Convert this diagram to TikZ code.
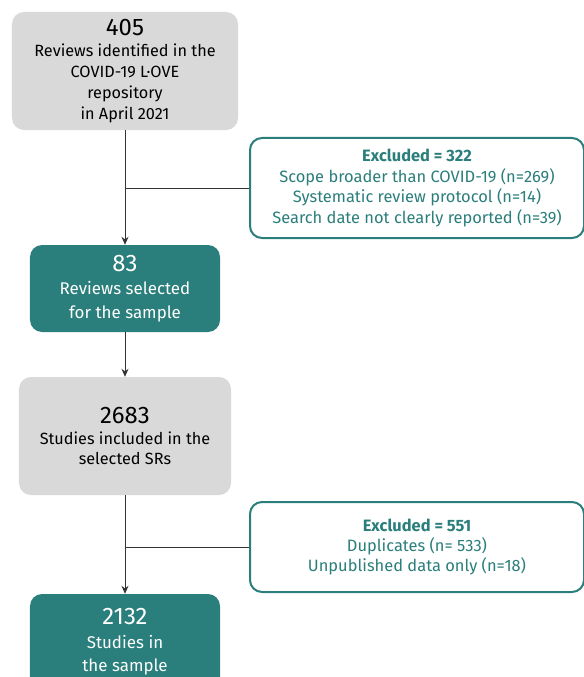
\documentclass[tikz,border=0pt]{standalone}
\usepackage{fontspec}
\setmainfont{Fira Sans}
\usetikzlibrary{arrows.meta}
\definecolor{tealbox}{HTML}{2A7E7B}
\definecolor{greybox}{HTML}{D9D9D9}
\tikzset{
 gb/.style={rectangle,rounded corners=12bp,fill=greybox,align=center,inner sep=0pt,
  font=\fontsize{16.3}{21}\selectfont},
 tb/.style={gb,fill=tealbox,text=white,font=\fontsize{17}{23.5}\selectfont},
 xb/.style={rectangle,rounded corners=12bp,draw=tealbox,line width=2bp,fill=white,
  text=tealbox,align=center,inner sep=0pt,font=\fontsize{16.5}{20.5}\selectfont},
 ar/.style={-{Stealth[length=8bp,width=7bp]},line width=1bp},
 ln/.style={line width=1bp,draw=black!80}}
\newcommand{\bignum}[1]{{\fontsize{24}{27}\selectfont #1}}

\begin{document}
\begin{tikzpicture}[x=1bp,y=-1bp]
 \useasboundingbox (0,0) rectangle (584,677);
 \begin{scope}
 \clip (0,0) rectangle (584,677);
 \node[gb,minimum width=226bp,minimum height=118bp] (rev) at (125,71)
  {\bignum{405}\\Reviews identified in the\\COVID-19 L·OVE\\repository\\in April 2021};
 \node[tb,minimum width=190bp,minimum height=87bp] (sel) at (125,288.5)
  {\bignum{83}\\Reviews selected\\for the sample};
 \node[gb,minimum width=212bp,minimum height=118bp] (stu) at (125,436)
  {\bignum{2683}\\Studies included in the\\selected SRs};
 \node[tb,minimum width=190bp,minimum height=96bp] (smp) at (125,642)
  {\bignum{2132}\\Studies in\\the sample};
 \node[xb,minimum width=334bp,minimum height=100bp] (ex1) at (417,188)
  {\textbf{Excluded = 322}\\Scope broader than COVID-19 (n=269)\\Systematic review protocol (n=14)\\Search date not clearly reported (n=39)};
 \node[xb,minimum width=334bp,minimum height=90bp] (ex2) at (417,547)
  {\textbf{Excluded = 551}\\Duplicates (n= 533)\\Unpublished data only (n=18)};
 \draw[ln,ar] (rev) -- (sel);
 \draw[ln,ar] (sel) -- (stu);
 \draw[ln,ar] (stu) -- (smp);
 \draw[ln] (ex1.west) -- (ex1.west -| rev.south);
 \draw[ln] (ex2.west) -- (ex2.west -| stu.south);
 \end{scope}
\end{tikzpicture}
\end{document}
